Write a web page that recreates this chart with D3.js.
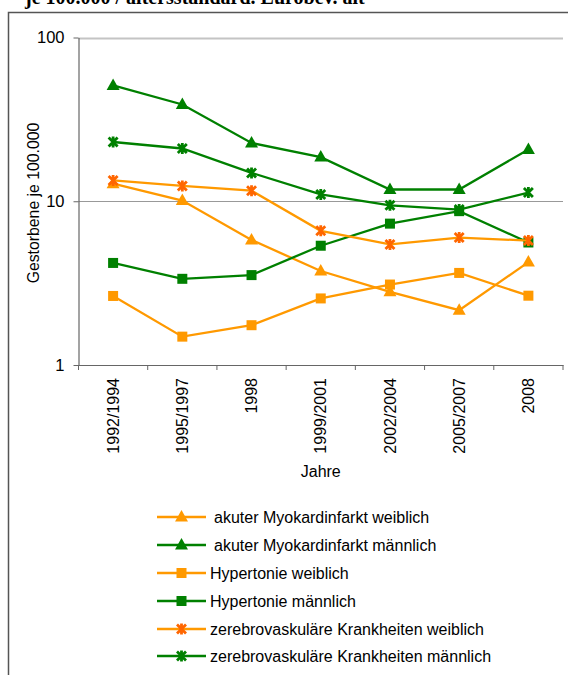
<!DOCTYPE html>
<html><head><meta charset="utf-8">
<script src="https://cdn.jsdelivr.net/npm/d3@7"></script>
<style>body{margin:0;background:#fff}svg{display:block}</style>
</head><body>
<script>
const categories = ["1992/1994","1995/1997","1998","1999/2001","2002/2004","2005/2007","2008"];
const amiW = [12.8, 10.1, 5.8, 3.75, 2.8, 2.16, 4.25];
const amiM = [51, 39, 22.7, 18.6, 11.8, 11.8, 20.7];
const hypW = [2.64, 1.49, 1.75, 2.55, 3.1, 3.65, 2.65];
const hypM = [4.2, 3.36, 3.54, 5.35, 7.3, 8.7, 5.6];
const cerW = [13.4, 12.4, 11.6, 6.6, 5.45, 6.0, 5.75];
const cerM = [23.0, 21.0, 14.9, 11.0, 9.45, 8.9, 11.3];
const yTicks = [1, 10, 100];
const seriesNames = ["akuter Myokardinfarkt weiblich","akuter Myokardinfarkt männlich","Hypertonie weiblich","Hypertonie männlich","zerebrovaskuläre Krankheiten weiblich","zerebrovaskuläre Krankheiten männlich"];
const title = "je 100.000 / altersstandard. Eurobev. alt";
const yTitle = "Gestorbene je 100.000";
const xTitle = "Jahre";

const ORANGE = "#FF9900", GREEN = "#008000", RED = "#FF6600";
const series = [
  {name: seriesNames[0], values: amiW, color: ORANGE, marker: "tri", mcolor: ORANGE},
  {name: seriesNames[1], values: amiM, color: GREEN, marker: "tri", mcolor: GREEN},
  {name: seriesNames[2], values: hypW, color: ORANGE, marker: "sq", mcolor: ORANGE},
  {name: seriesNames[3], values: hypM, color: GREEN, marker: "sq", mcolor: GREEN},
  {name: seriesNames[4], values: cerW, color: ORANGE, marker: "star", mcolor: RED},
  {name: seriesNames[5], values: cerM, color: GREEN, marker: "star", mcolor: GREEN}
];

const W = 568, H = 675;
const FONT = "'Liberation Sans', Arial, sans-serif";
const svg = d3.select("body").append("svg").attr("width", W).attr("height", H);

// outer frame
svg.append("rect").attr("x", 8.5).attr("y", 12.5).attr("width", 700).attr("height", 800)
  .attr("fill", "none").attr("stroke", "#555").attr("stroke-width", 1.5);

svg.append("text").attr("x", 25).attr("y", 4).attr("font-family", "'Liberation Serif', 'Times New Roman', serif")
  .attr("font-weight", "bold").attr("font-size", 20).attr("fill", "#000").text(title);

const x = d3.scaleBand().domain(categories).range([78.5, 563]);
const y = d3.scaleLog().domain([1, 100]).range([365, 37.5]);

// gridlines
svg.append("g").selectAll("line").data(yTicks.filter(d => d > 1)).join("line")
  .attr("x1", 78.5).attr("x2", 563).attr("y1", d => Math.round(y(d)) + 0.5).attr("y2", d => Math.round(y(d)) + 0.5)
  .attr("stroke", d => d === 100 ? "#c4c4c4" : "#999").attr("stroke-width", d => d === 100 ? 2 : 1);

// y axis
const yAxis = svg.append("g").attr("transform", "translate(78.5,0)")
  .call(d3.axisLeft(y).tickValues(yTicks).tickFormat(d3.format("d")).tickSize(5).tickSizeOuter(0).tickPadding(9));
yAxis.select(".domain").attr("stroke", "#666").attr("stroke-width", 1.2);
yAxis.selectAll(".tick line").attr("stroke", "#666");
yAxis.selectAll("text").attr("font-family", FONT).attr("font-size", 16.5).attr("fill", "#000");

// x axis
const xAxis = svg.append("g").attr("transform", "translate(0,365)")
  .call(d3.axisBottom(x).tickSize(0).tickSizeOuter(0));
xAxis.select(".domain").attr("stroke", "#666").attr("stroke-width", 1.2);
xAxis.selectAll(".tick text")
  .attr("font-family", FONT).attr("font-size", 16).attr("fill", "#000")
  .attr("transform", "rotate(-90)").attr("text-anchor", "end").attr("dy", "0.35em").attr("x", -13).attr("y", 0);
const bounds = categories.map(c => x(c)).concat([x.range()[1]]);
xAxis.append("g").selectAll("line").data(bounds).join("line")
  .attr("x1", d => d).attr("x2", d => d).attr("y1", 0).attr("y2", 5).attr("stroke", "#666");

// titles
svg.append("text").attr("transform", "translate(39,203) rotate(-90)").attr("text-anchor", "middle")
  .attr("font-family", FONT).attr("font-size", 15.8).attr("fill", "#000").text(yTitle);
svg.append("text").attr("x", (78.5 + 563) / 2).attr("y", 477).attr("text-anchor", "middle")
  .attr("font-family", FONT).attr("font-size", 16).attr("fill", "#000").text(xTitle);

function drawMarker(g, type, color, cx, cy) {
  if (type === "tri") {
    g.append("path").attr("d", `M${cx},${cy - 7}L${cx + 6.5},${cy + 4.5}L${cx - 6.5},${cy + 4.5}Z`).attr("fill", color);
  } else if (type === "sq") {
    g.append("rect").attr("x", cx - 5).attr("y", cy - 5).attr("width", 10).attr("height", 10).attr("fill", color);
  } else {
    g.append("path").attr("d", `M${cx - 4.5},${cy - 4.5}L${cx + 4.5},${cy + 4.5}M${cx + 4.5},${cy - 4.5}L${cx - 4.5},${cy + 4.5}M${cx},${cy - 5.5}L${cx},${cy + 5.5}`)
      .attr("stroke", color).attr("stroke-width", 2.8).attr("fill", "none");
  }
}

const line = d3.line().x((d, i) => x(categories[i]) + x.bandwidth() / 2).y(d => y(d));
series.forEach(s => {
  const g = svg.append("g");
  g.append("path").datum(s.values).attr("d", line).attr("fill", "none").attr("stroke", s.color).attr("stroke-width", 2.3);
  s.values.forEach((v, i) => drawMarker(g, s.marker, s.mcolor, x(categories[i]) + x.bandwidth() / 2, y(v)));
});

// legend
const legY = [517, 545, 573, 601, 629, 656];
series.forEach((s, i) => {
  const g = svg.append("g");
  const cy = legY[i];
  g.append("line").attr("x1", 157).attr("x2", 206).attr("y1", cy).attr("y2", cy).attr("stroke", s.color).attr("stroke-width", 2.3);
  drawMarker(g, s.marker, s.mcolor, 181.5, cy);
  g.append("text").attr("x", i < 2 ? 214 : 210).attr("y", cy + 5.5).attr("font-family", FONT).attr("font-size", 16)
    .attr("fill", "#000").text(s.name);
});
</script>
</body></html>
